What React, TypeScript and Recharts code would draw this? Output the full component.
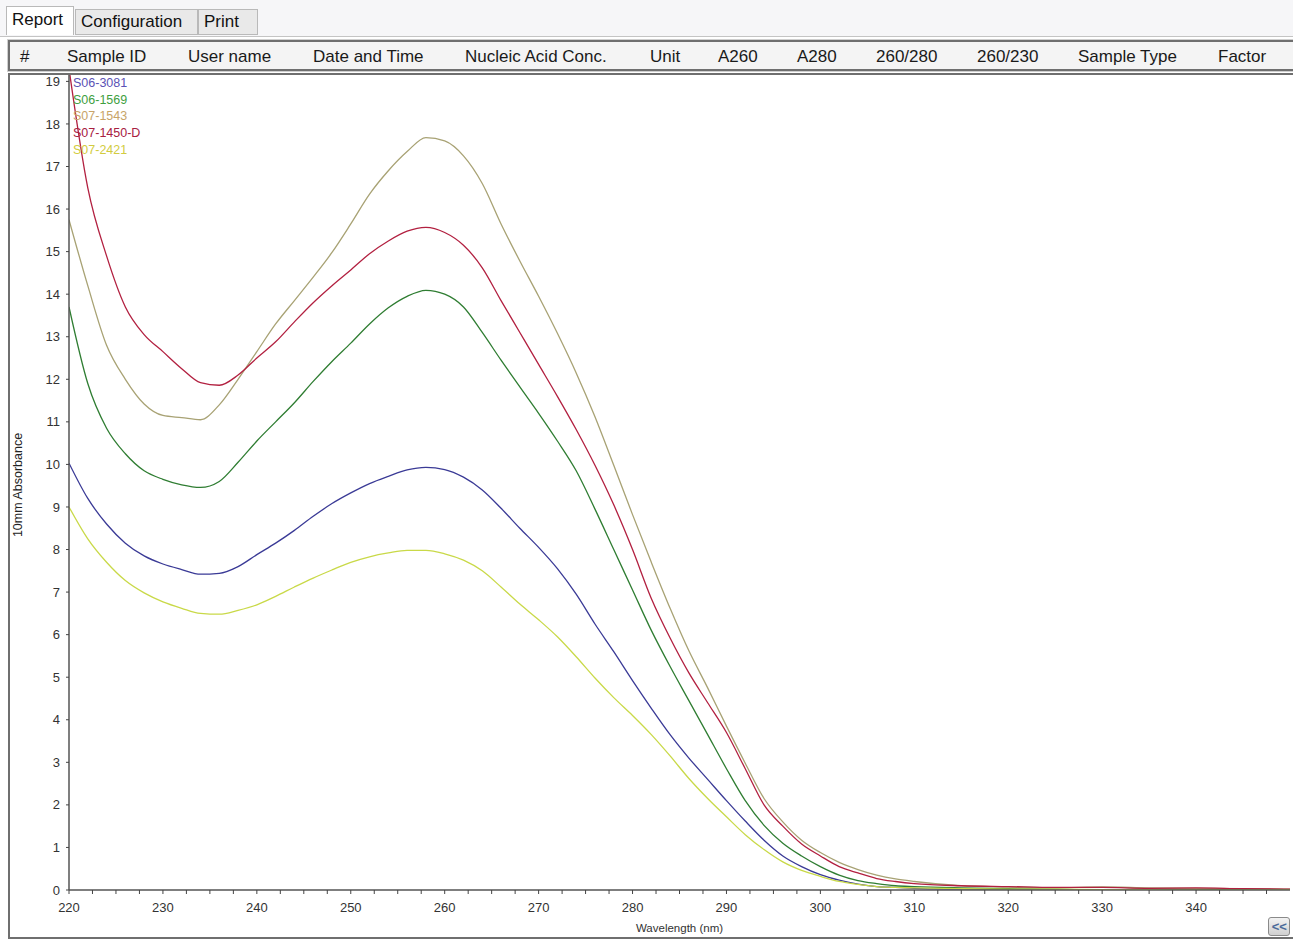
import React from 'react'
import { LineChart, Line, XAxis, YAxis, Legend } from 'recharts'

// wavelength grid (nm)
const wavelengths = [
  220, 222, 224, 226, 228, 230, 232, 234, 236, 238, 240, 242, 244, 246, 248, 250,
  252, 254, 256, 258, 260, 262, 264, 266, 268, 270, 272, 274, 276, 278, 280, 282,
  284, 286, 288, 290, 292, 294, 296, 298, 300, 302, 304, 306, 308, 310, 315, 320,
  325, 330, 335, 340, 345, 350,
]

// 10mm absorbance per sample
const s06_3081 = [
  10.03, 9.2, 8.6, 8.15, 7.85, 7.66, 7.53, 7.42, 7.44, 7.6, 7.88, 8.15, 8.45, 8.78, 9.08, 9.33,
  9.55, 9.72, 9.87, 9.93, 9.88, 9.7, 9.4, 8.97, 8.5, 8.05, 7.55, 6.95, 6.25, 5.6, 4.92, 4.27,
  3.65, 3.1, 2.6, 2.1, 1.62, 1.17, 0.8, 0.55, 0.36, 0.23, 0.14, 0.08, 0.06, 0.04, 0.02, 0.01,
  0.01, 0.0, 0.01, 0.0, 0.0, 0.0,
]
const s06_1569 = [
  13.7, 11.9, 10.85, 10.25, 9.85, 9.65, 9.52, 9.46, 9.6, 10.05, 10.55, 11.0, 11.45, 11.95, 12.42, 12.85,
  13.3, 13.68, 13.95, 14.09, 14.0, 13.7, 13.1, 12.45, 11.82, 11.2, 10.55, 9.85, 8.95, 8.0, 7.05, 6.1,
  5.25, 4.45, 3.65, 2.85, 2.1, 1.52, 1.1, 0.8, 0.55, 0.35, 0.22, 0.15, 0.1, 0.08, 0.05, 0.03,
  0.02, 0.0, 0.02, 0.02, 0.01, 0.0,
]
const s07_1543 = [
  15.75, 14.2, 12.8, 12.0, 11.42, 11.15, 11.1, 11.05, 11.4, 12.0, 12.65, 13.3, 13.85, 14.4, 14.98, 15.65,
  16.35, 16.9, 17.35, 17.68, 17.6, 17.25, 16.6, 15.65, 14.78, 13.95, 13.08, 12.15, 11.12, 9.98, 8.82, 7.7,
  6.62, 5.62, 4.75, 3.85, 2.98, 2.15, 1.6, 1.17, 0.88, 0.65, 0.48, 0.35, 0.26, 0.2, 0.1, 0.07,
  0.05, 0.07, 0.05, 0.04, 0.03, 0.02,
]
const s07_1450_d = [
  19.3, 16.5, 14.9, 13.7, 13.05, 12.65, 12.25, 11.92, 11.86, 12.1, 12.5, 12.88, 13.35, 13.8, 14.2, 14.57,
  14.95, 15.25, 15.48, 15.57, 15.45, 15.15, 14.62, 13.85, 13.1, 12.35, 11.6, 10.82, 9.98, 9.05, 8.0, 6.85,
  5.92, 5.1, 4.4, 3.7, 2.85, 2.0, 1.5, 1.08, 0.8, 0.55, 0.4, 0.27, 0.2, 0.15, 0.1, 0.08,
  0.06, 0.06, 0.04, 0.05, 0.03, 0.02,
]
const s07_2421 = [
  9.0, 8.25, 7.7, 7.27, 6.98, 6.77, 6.62, 6.5, 6.48, 6.57, 6.7, 6.9, 7.12, 7.33, 7.52, 7.7,
  7.83, 7.92, 7.98, 7.98, 7.9, 7.75, 7.5, 7.12, 6.72, 6.35, 5.95, 5.48, 4.98, 4.52, 4.1, 3.65,
  3.15, 2.62, 2.15, 1.72, 1.3, 0.95, 0.66, 0.46, 0.32, 0.2, 0.13, 0.08, 0.06, 0.05, 0.03, 0.02,
  0.02, 0.01, 0.01, 0.0, 0.0, 0.0,
]

const sampleIds = ['S06-3081', 'S06-1569', 'S07-1543', 'S07-1450-D', 'S07-2421']
const sampleValues = [s06_3081, s06_1569, s07_1543, s07_1450_d, s07_2421]
const lineColors = ['#3a3a96', '#2f7d32', '#a8a274', '#b22040', '#c9d948']
const labelColors = ['#5b52b5', '#3f9f3f', '#c8a468', '#a8203f', '#d2cc40']

const majorTicks = [220, 230, 240, 250, 260, 270, 280, 290, 300, 310, 320, 330, 340]
const yTicks = [0, 1, 2, 3, 4, 5, 6, 7, 8, 9, 10, 11, 12, 13, 14, 15, 16, 17, 18, 19]
// minor marks every 2.5 nm between the labelled ones
const xTicks: number[] = []
for (let w = 220; w < 350; w += 2.5) xTicks.push(w)

const headerLabels = ['#', 'Sample ID', 'User name', 'Date and Time', 'Nucleic Acid Conc.', 'Unit', 'A260', 'A280', '260/280', '260/230', 'Sample Type', 'Factor']
const headerX = [20, 67, 188, 313, 465, 650, 718, 797, 876, 977, 1078, 1218]

const data = wavelengths.map((wl, i) => {
  const row: Record<string, number> = { wl }
  sampleIds.forEach((id, k) => { row[id] = sampleValues[k][i] })
  return row
})

const FONT = '"Liberation Sans", Arial, sans-serif'

function XTick({ x, y, payload }: any) {
  if (!majorTicks.includes(payload.value)) return null
  return (
    <text x={x} y={y} dy="0.8em" textAnchor="middle" fontSize={13} fontFamily={FONT} fill="#333">
      {payload.value}
    </text>
  )
}

function SampleLegend() {
  return (
    <div style={{ fontFamily: FONT, fontSize: 12.5, lineHeight: '16.7px' }}>
      {sampleIds.map((id, k) => (
        <div key={id} style={{ color: labelColors[k] }}>{id}</div>
      ))}
    </div>
  )
}

function Tab({ label, left, width, active }: { label: string; left: number; width: number; active?: boolean }) {
  return (
    <div style={{
      position: 'absolute', left, top: active ? 6 : 9, width, height: active ? 29 : 26,
      background: active ? '#ffffff' : '#e9e9e9', border: '1px solid #b9b9b9', borderBottom: active ? 'none' : '1px solid #b9b9b9',
      boxSizing: 'border-box', fontFamily: FONT, fontSize: 17, color: '#111',
      paddingLeft: 5, lineHeight: active ? '26px' : '24px',
    }}>{label}</div>
  )
}

export default function App() {
  return (
    <div style={{ position: 'absolute', left: 0, top: 0, width: 1293, height: 940, background: '#ffffff', overflow: 'hidden' }}>
      {/* tab strip */}
      <div style={{ position: 'absolute', left: 0, top: 0, width: 1293, height: 36, background: '#f6f6f8', borderBottom: '1px solid #c4c4c4' }} />
      <Tab label="Report" left={6} width={68} active />
      <Tab label="Configuration" left={75} width={123} />
      <Tab label="Print" left={198} width={60} />

      {/* table header */}
      <div style={{
        position: 'absolute', left: 8, top: 40, width: 1290, height: 31, boxSizing: 'border-box',
        background: '#f4f4f4', border: '2px solid #6f6f6f', outline: '1px solid #cfcfcf',
      }}>
        {headerLabels.map((h, i) => (
          <span key={h} style={{ position: 'absolute', left: headerX[i] - 10, top: 5, fontFamily: FONT, fontSize: 17, color: '#1a1a1a', whiteSpace: 'nowrap' }}>{h}</span>
        ))}
      </div>

      {/* chart panel */}
      <div style={{ position: 'absolute', left: 8, top: 73, width: 1290, height: 866, boxSizing: 'border-box', border: '2px solid #6f6f6f', borderRight: 'none' }} />

      <div style={{ position: 'absolute', left: 8, top: 72 }}>
        <LineChart width={1285} height={866} data={data} margin={{ top: 3, right: 3, bottom: 8, left: 16 }}>
          <XAxis
            dataKey="wl" type="number" domain={[220, 350]} ticks={xTicks} interval={0}
            allowDataOverflow height={40} tick={<XTick />} tickSize={4} tickMargin={8}
            axisLine={{ stroke: '#555', strokeWidth: 1.5 }} tickLine={{ stroke: '#444' }}
            label={{ value: 'Wavelength (nm)', position: 'insideBottom', offset: -2, fontSize: 11.5, fontFamily: FONT, fill: '#333' }}
          />
          <YAxis
            type="number" domain={[0, 19.15]} ticks={yTicks} interval={0} allowDataOverflow width={45}
            tick={{ fontSize: 13, fontFamily: FONT, fill: '#333' }} tickSize={3} tickMargin={6}
            axisLine={{ stroke: '#555', strokeWidth: 1.5 }} tickLine={{ stroke: '#444' }}
          />
          <Legend
            layout="vertical" align="center" verticalAlign="middle" content={<SampleLegend />}
            wrapperStyle={{ position: 'absolute', left: 65, top: 3, width: 120 }}
          />
          {sampleIds.map((id, k) => (
            <Line
              key={id} dataKey={id} name={id} type="monotone" stroke={lineColors[k]}
              strokeWidth={1.3} dot={false} isAnimationActive={false}
            />
          ))}
        </LineChart>
      </div>

      {/* y axis title */}
      <div style={{
        position: 'absolute', left: 18, top: 485, transform: 'translate(-50%, -50%) rotate(-90deg)',
        fontFamily: FONT, fontSize: 12.5, color: '#222', whiteSpace: 'nowrap',
      }}>10mm Absorbance</div>

      {/* collapse button */}
      <div style={{
        position: 'absolute', left: 1268, top: 917, width: 22, height: 19, boxSizing: 'border-box',
        border: '1px solid #8a8a8a', borderRadius: 3, background: 'linear-gradient(#f2f2f2, #cfcfcf)',
        fontFamily: FONT, fontSize: 13, fontWeight: 'bold', fontStyle: 'italic', color: '#4a6a9a',
        textAlign: 'center', lineHeight: '17px',
      }}>{'<<'}</div>
    </div>
  )
}
